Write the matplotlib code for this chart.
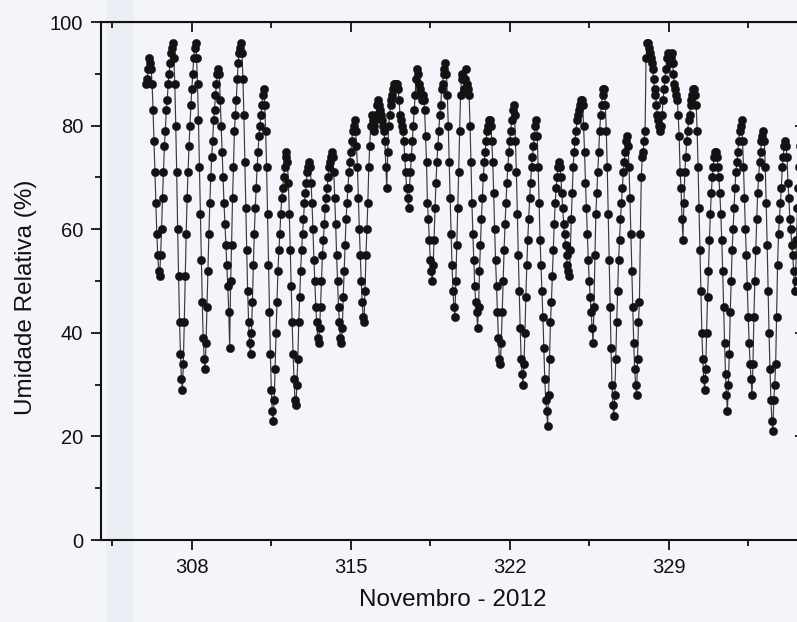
import numpy as np
import matplotlib
matplotlib.use("Agg")
import matplotlib.pyplot as plt
from matplotlib.ticker import MultipleLocator, FixedLocator
from matplotlib.patches import Rectangle

# Hourly relative humidity (%), one list per day of year (Nov 2012 = DOY 306..335)
rh_306 = [88, 89, 91, 93, 92, 91, 88, 83, 77, 71, 65, 59, 55, 52, 51, 55, 60, 66, 71, 76, 79, 83, 85, 88]
rh_307 = [90, 92, 94, 95, 96, 93, 88, 80, 71, 60, 51, 42, 36, 31, 29, 34, 42, 51, 59, 66, 71, 76, 80, 84]
rh_308 = [87, 90, 93, 95, 96, 93, 88, 81, 72, 63, 54, 46, 39, 35, 33, 38, 45, 52, 59, 65, 70, 74, 77, 81]
rh_309 = [83, 86, 88, 90, 91, 90, 85, 80, 75, 70, 65, 61, 57, 53, 49, 44, 37, 50, 57, 66, 72, 79, 82, 85]
rh_310 = [89, 92, 94, 95, 96, 94, 89, 82, 73, 64, 56, 48, 42, 38, 36, 40, 46, 53, 59, 64, 68, 72, 75, 78]
rh_311 = [80, 82, 84, 86, 87, 84, 79, 72, 63, 53, 44, 36, 29, 25, 23, 27, 33, 40, 46, 52, 56, 59, 63, 66]
rh_312 = [68, 70, 72, 74, 75, 73, 69, 63, 56, 49, 42, 36, 31, 27, 26, 30, 35, 42, 47, 52, 56, 59, 62, 65]
rh_313 = [67, 69, 71, 72, 73, 72, 69, 65, 60, 54, 50, 45, 42, 39, 38, 41, 45, 50, 55, 58, 61, 64, 66, 68]
rh_314 = [70, 72, 73, 74, 75, 74, 71, 66, 61, 55, 50, 45, 42, 39, 38, 41, 47, 52, 57, 62, 65, 68, 71, 73]
rh_315 = [75, 77, 79, 80, 81, 79, 76, 72, 66, 60, 55, 50, 46, 43, 42, 48, 55, 60, 65, 72, 76, 80, 82, 81]
rh_316 = [80, 79, 81, 82, 84, 85, 84, 83, 82, 81, 80, 79, 77, 72, 68, 75, 80, 82, 84, 85, 86, 87, 88, 88]
rh_317 = [88, 88, 87, 85, 82, 81, 80, 79, 77, 74, 71, 68, 66, 64, 68, 71, 74, 77, 80, 83, 86, 89, 91, 90]
rh_318 = [88, 87, 86, 85, 86, 85, 83, 78, 73, 65, 62, 58, 54, 52, 50, 53, 58, 64, 69, 73, 76, 79, 82, 84]
rh_319 = [87, 88, 90, 91, 92, 90, 86, 80, 73, 66, 59, 53, 48, 45, 43, 50, 57, 64, 71, 79, 86, 89, 90, 89]
rh_320 = [87, 89, 91, 88, 87, 86, 80, 73, 65, 59, 54, 49, 46, 44, 41, 45, 52, 57, 62, 66, 70, 73, 75, 77]
rh_321 = [79, 80, 81, 81, 80, 77, 73, 67, 60, 54, 49, 44, 39, 35, 34, 38, 44, 50, 56, 61, 65, 69, 72, 75]
rh_322 = [77, 79, 81, 83, 84, 82, 77, 71, 63, 55, 48, 41, 35, 32, 30, 34, 40, 47, 53, 58, 62, 66, 69, 72]
rh_323 = [74, 76, 78, 80, 81, 78, 72, 65, 58, 53, 48, 43, 37, 31, 27, 25, 22, 28, 35, 42, 46, 51, 56, 61]
rh_324 = [65, 68, 70, 72, 73, 72, 70, 67, 64, 61, 59, 57, 55, 53, 52, 51, 56, 62, 67, 72, 75, 77, 79, 81]
rh_325 = [82, 83, 84, 85, 85, 84, 80, 75, 69, 64, 59, 54, 50, 47, 44, 41, 38, 45, 55, 63, 67, 71, 75, 79]
rh_326 = [82, 84, 86, 87, 87, 84, 79, 72, 63, 54, 45, 37, 30, 26, 24, 28, 35, 42, 48, 54, 58, 62, 65, 68]
rh_327 = [71, 73, 75, 77, 78, 76, 72, 66, 59, 52, 45, 38, 33, 30, 28, 35, 42, 46, 59, 70, 74, 75, 77, 79]
rh_328 = [93, 96, 96, 95, 94, 93, 92, 91, 89, 87, 86, 84, 82, 81, 80, 79, 80, 82, 85, 87, 89, 91, 93, 94]
rh_329 = [93, 92, 93, 94, 92, 90, 88, 87, 86, 85, 82, 78, 71, 68, 62, 58, 65, 71, 74, 77, 79, 81, 82, 84]
rh_330 = [85, 86, 87, 87, 86, 84, 79, 72, 64, 56, 48, 40, 35, 31, 29, 33, 40, 47, 52, 58, 63, 67, 70, 72]
rh_331 = [74, 75, 75, 74, 72, 70, 67, 63, 58, 52, 45, 38, 32, 28, 25, 30, 36, 44, 50, 56, 60, 64, 68, 71]
rh_332 = [73, 75, 77, 79, 80, 81, 77, 72, 66, 60, 55, 49, 43, 38, 34, 31, 28, 34, 43, 50, 56, 62, 67, 70]
rh_333 = [73, 75, 77, 78, 79, 77, 72, 65, 57, 48, 40, 33, 27, 23, 21, 27, 30, 34, 43, 53, 59, 62, 65, 68]
rh_334 = [72, 74, 76, 77, 76, 74, 69, 66, 62, 60, 57, 55, 52, 48, 50, 58, 64, 68, 72, 76, 80, 83, 85, 86]

first_day = 306
days = [rh_306, rh_307, rh_308, rh_309, rh_310, rh_311, rh_312, rh_313, rh_314, rh_315,
        rh_316, rh_317, rh_318, rh_319, rh_320, rh_321, rh_322, rh_323, rh_324, rh_325,
        rh_326, rh_327, rh_328, rh_329, rh_330, rh_331, rh_332, rh_333, rh_334]

major_ticks = [308, 315, 322, 329, 336]
minor_ticks = [304.5, 311.5, 318.5, 325.5, 332.5]
x_label = "Novembro - 2012"
y_label = "Umidade Relativa (%)"

rh = np.concatenate([np.asarray(d, dtype=float) for d in days])
t = first_day + np.arange(rh.size) / 24.0

plt.rcParams['font.family'] = ['Liberation Sans', 'DejaVu Sans']
bg = '#f4f5fa'
ink = '#111111'

fig = plt.figure(figsize=(7.97, 6.22), dpi=100, facecolor=bg)
# faint scan band behind the left part of the plot
band = Rectangle((106 / 797, 0), 28 / 797, 1, transform=fig.transFigure,
                 facecolor='#eceef6', edgecolor='none', zorder=-5)
fig.patches.append(band)
ax = fig.add_axes([101 / 797, 82 / 622, 704 / 797, 518 / 622])
ax.set_facecolor('none')
ax.set_zorder(2)

ax.plot(t, rh, '-', color='#3a3a3a', lw=0.85, zorder=2)
ax.plot(t, rh, 'o', color='#131313', ms=6.0, mec='#131313', mew=0.3, zorder=3)

ax.set_xlim(304, 335)
ax.set_ylim(0, 100)

ax.xaxis.set_major_locator(FixedLocator(major_ticks))
ax.xaxis.set_minor_locator(FixedLocator(minor_ticks))
ax.yaxis.set_major_locator(MultipleLocator(20))
ax.yaxis.set_minor_locator(MultipleLocator(10))

for s in ax.spines.values():
    s.set_linewidth(1.5)
    s.set_color(ink)

ax.tick_params(which='major', direction='out', length=7.2, width=1.3, pad=5.5,
               labelsize=14.5, colors=ink)
ax.tick_params(which='minor', direction='out', length=4, width=1.3, colors=ink)
ax.tick_params(top=False, right=False)

top = ax.secondary_xaxis('top')
top.xaxis.set_major_locator(FixedLocator(major_ticks))
top.xaxis.set_minor_locator(FixedLocator(minor_ticks))
top.tick_params(which='major', direction='in', length=7.2, width=1.3, labeltop=False, colors=ink)
top.tick_params(which='minor', direction='in', length=4, width=1.3, colors=ink)

right = ax.secondary_yaxis('right')
right.yaxis.set_major_locator(MultipleLocator(20))
right.yaxis.set_minor_locator(MultipleLocator(10))
right.tick_params(which='major', direction='in', length=7.2, width=1.3, labelright=False, colors=ink)
right.tick_params(which='minor', direction='in', length=4, width=1.3, colors=ink)

ax.set_xlabel(x_label, fontsize=17.5, color=ink)
ax.set_ylabel(y_label, fontsize=17.5, color=ink)
ax.xaxis.set_label_coords(0.5, -0.095)
ax.yaxis.set_label_coords(-0.091, 0.468)

fig.savefig('out.png', dpi=100, facecolor=bg)
